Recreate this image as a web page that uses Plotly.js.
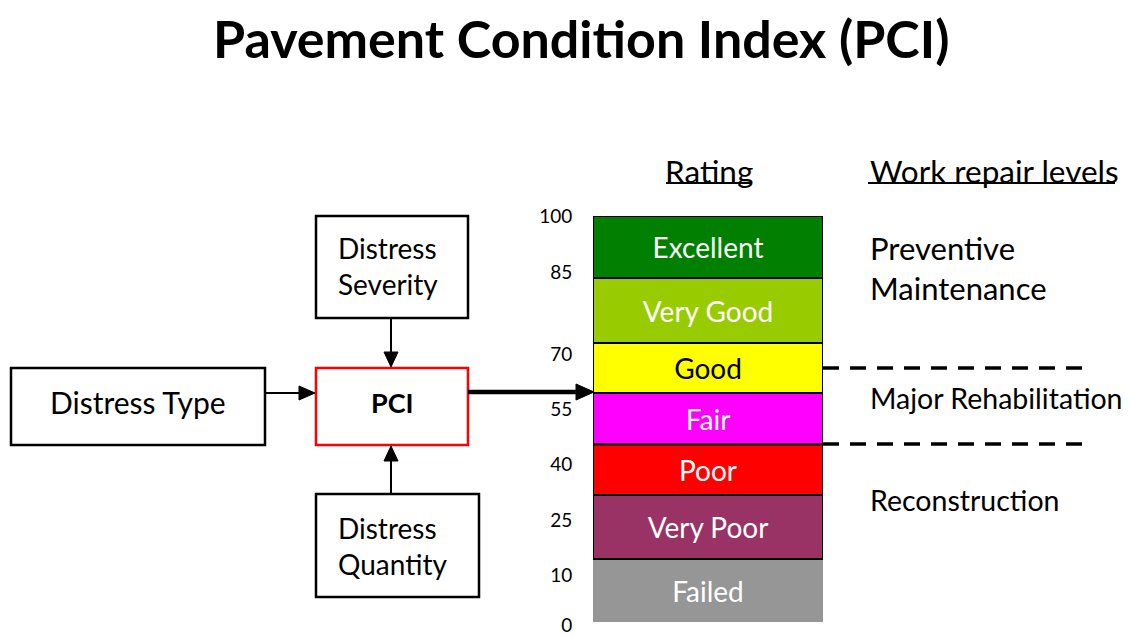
<!DOCTYPE html>
<html>
<head>
<meta charset="utf-8">
<script src="https://cdn.plot.ly/plotly-3.0.1.min.js"></script>
<style>html,body{margin:0;padding:0;background:#fff;}#chart{width:1129px;height:638px;}</style>
</head>
<body>
<div id="chart"></div>
<script>
// ---- data ----
var ratingNames = ["Failed", "Very Poor", "Poor", "Fair", "Good", "Very Good", "Excellent"];
var ratingColors = ["#969696", "#993366", "#FF0000", "#FF00FF", "#FFFF00", "#99CC00", "#007F00"];
var ratingTextColors = ["#ffffff", "#ffffff", "#ffffff", "#ffffff", "#000000", "#ffffff", "#ffffff"];
// drawn height of each band on the diagram's scale (bar total = 100), bottom to top
var bandHeight = [15.5, 15.8, 12.5, 12.6, 12.3, 16.0, 15.3];
var tickLabels = ["100", "85", "70", "55", "40", "25", "10", "0"];
var tickPos = [99.8, 86.2, 66.0, 52.5, 38.9, 25.1, 11.6, -0.9];
var inputBoxes = ["Distress Type", "Distress<br>Severity", "Distress<br>Quantity"];
var repairLevels = ["Preventive<br>Maintenance", "Major Rehabilitation", "Reconstruction"];

// ---- layout helpers ----
var W = 1129, H = 638;
function X(p) { return p / W; }
function Y(p) { return 1 - p / H; }
var FONT = "Lato, 'Open Sans', sans-serif";

var base = [];
var acc = 0;
for (var i = 0; i < bandHeight.length; i++) { base.push(acc); acc += bandHeight[i]; }

// bar occupies px 216 (top) to 622 (bottom)
var barTopPx = 216, barBotPx = 622;
var pxPerUnit = (barBotPx - barTopPx) / acc;
var yMin = -3;
var domBottom = Y(barBotPx - yMin * pxPerUnit);
var domTop = Y(barTopPx);

var trace = {
  type: "bar",
  x: ratingNames.map(function () { return "r"; }),
  y: bandHeight,
  base: base,
  width: 1,
  marker: {
    color: ratingColors,
    line: { color: "#000", width: ratingNames.map(function (n, i) { return i === 0 ? 0 : 2; }) }
  },
  text: ratingNames,
  textposition: "inside",
  insidetextanchor: "middle",
  textangle: 0,
  textfont: { family: FONT, size: 28, color: ratingTextColors },
  hoverinfo: "skip",
  showlegend: false
};

var shapes = [];
function box(x0, y0, x1, y1, col) {
  shapes.push({ type: "rect", xref: "paper", yref: "paper", x0: X(x0), x1: X(x1), y0: Y(y0), y1: Y(y1),
    line: { color: col || "#000", width: 2.5 }, fillcolor: "rgba(0,0,0,0)", layer: "above" });
}
function line(x0, y0, x1, y1, w, dash) {
  shapes.push({ type: "line", xref: "paper", yref: "paper", x0: X(x0), x1: X(x1), y0: Y(y0), y1: Y(y1),
    line: { color: "#000", width: w, dash: dash || "solid" }, layer: "above" });
}
function tri(pts) {
  var d = "M" + pts.map(function (p) { return X(p[0]) + "," + Y(p[1]); }).join(" L") + " Z";
  shapes.push({ type: "path", xref: "paper", yref: "paper", path: d, fillcolor: "#000", line: { color: "#000", width: 1 }, layer: "above" });
}

// boxes
box(11, 368, 265, 445);
box(316, 216, 468, 318);
box(316, 494, 479, 597);
box(316, 368, 468, 445, "#FF0000");
// arrows
line(265, 393, 300, 393, 2); tri([[299, 386], [315, 393], [299, 400]]);
line(391, 318, 391, 353, 2); tri([[384, 352], [391, 367], [398, 352]]);
line(391, 494, 391, 460, 2); tri([[384, 461], [391, 446], [398, 461]]);
line(468, 392, 577, 392, 4.5); tri([[576, 384], [594, 392], [576, 400]]);
// dashed separators
line(823, 368, 1092, 368, 3.5, "16px,11px");
line(823, 444, 1092, 444, 3.5, "16px,11px");
// underlines
line(666, 183, 752, 183, 2);
line(868, 183, 1115, 183, 2);

function ann(text, x, y, size, opts) {
  var a = { text: text, xref: "paper", yref: "paper", x: X(x), y: Y(y), showarrow: false,
    xanchor: "center", yanchor: "middle", font: { family: FONT, size: size, color: "#000" } };
  if (opts) for (var k in opts) a[k] = opts[k];
  return a;
}
var annotations = [
  ann("<b>Pavement Condition Index (PCI)</b>", 581, 38, 52),
  ann(inputBoxes[0], 138, 402, 30),
  ann(inputBoxes[1], 336, 266, 28, { xanchor: "left", align: "left" }),
  ann(inputBoxes[2], 336, 546, 28, { xanchor: "left", align: "left" }),
  ann("<b>PCI</b>", 392, 402, 27),
  ann("Rating", 709, 171, 31.5),
  ann("Work repair levels", 868, 171, 31.5, { xanchor: "left" }),
  ann(repairLevels[0], 868, 268, 31, { xanchor: "left", align: "left" }),
  ann(repairLevels[1], 868, 398, 28.5, { xanchor: "left" }),
  ann(repairLevels[2], 868, 500, 28.5, { xanchor: "left" })
];

var layout = {
  width: W, height: H,
  margin: { l: 0, r: 0, t: 0, b: 0, pad: 0 },
  paper_bgcolor: "#fff", plot_bgcolor: "rgba(0,0,0,0)",
  barmode: "overlay",
  showlegend: false,
  xaxis: { domain: [X(593), X(823)], range: [-0.5, 0.5], type: "category", visible: false, fixedrange: true },
  yaxis: { domain: [domBottom, domTop], range: [yMin, acc], showgrid: false, zeroline: false, showline: false,
    tickvals: tickPos, ticktext: tickLabels, ticks: "outside", ticklen: 16, tickcolor: "rgba(0,0,0,0)",
    ticklabeloverflow: "allow",
    tickfont: { family: FONT, size: 19, color: "#000" }, fixedrange: true },
  shapes: shapes,
  annotations: annotations,
  font: { family: FONT }
};

Plotly.newPlot("chart", [trace], layout, { staticPlot: true, displayModeBar: false });
</script>
</body>
</html>
